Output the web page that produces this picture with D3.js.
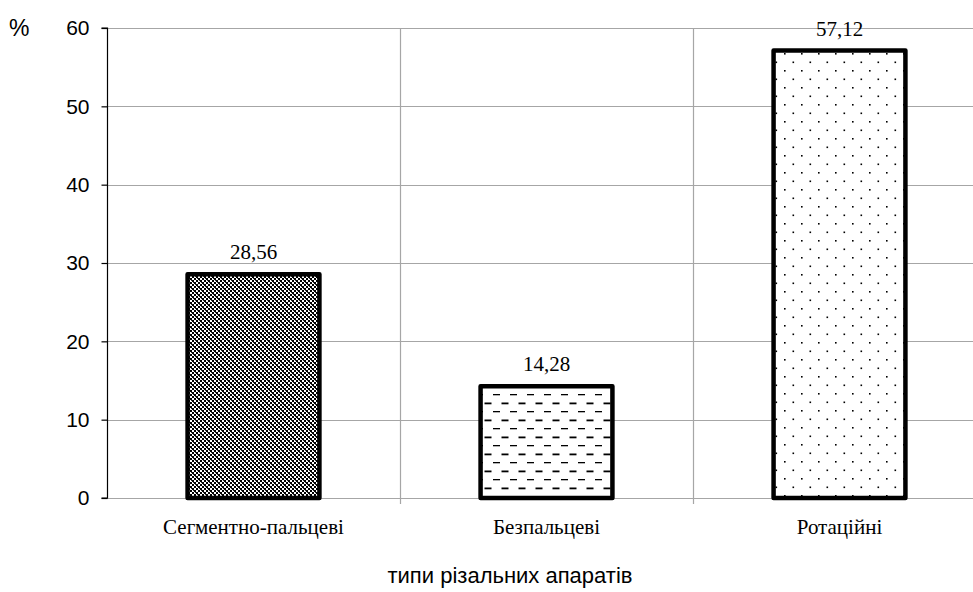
<!DOCTYPE html>
<html>
<head>
<meta charset="utf-8">
<script src="https://cdn.jsdelivr.net/npm/d3@7"></script>
<style>
  body { margin: 0; background: #fff; }
  svg { display: block; }
</style>
</head>
<body>
<svg id="chart" width="973" height="592"></svg>
<script>
const categories = ["Сегментно-пальцеві", "Безпальцеві", "Ротаційні"];
const values = [28.56, 14.28, 57.12];
const valueLabels = ["28,56", "14,28", "57,12"];
const yTicks = [0, 10, 20, 30, 40, 50, 60];
const patterns = ["pChecker", "pDash", "pDots"];

const svg = d3.select("#chart");
const margin = { left: 107, top: 28, bottom: 94 };
const plotW = 879;
const H = 592;

const x = d3.scaleBand().domain(categories).range([margin.left, margin.left + plotW]).paddingInner(0).paddingOuter(0);
const y = d3.scaleLinear().domain([0, 60]).range([H - margin.bottom, margin.top]);

const defs = svg.append("defs");
// dense checker / trellis pattern
const pc = defs.append("pattern").attr("id", "pChecker").attr("patternUnits", "userSpaceOnUse")
  .attr("width", 8).attr("height", 8);
pc.append("rect").attr("width", 8).attr("height", 8).attr("fill", "#fff");
[[0,0],[4,0],[2,2],[6,2],[0,4],[4,4],[2,6],[6,6]].forEach(([a, b]) => {
  pc.append("rect").attr("x", a).attr("y", b).attr("width", 2).attr("height", 2).attr("fill", "#000");
});
[[1,2],[5,6],[3,4],[7,0]].forEach(([a, b]) => {
  pc.append("rect").attr("x", a).attr("y", b).attr("width", 1).attr("height", 1).attr("fill", "#333");
});

const pd = defs.append("pattern").attr("id", "pDash").attr("patternUnits", "userSpaceOnUse")
  .attr("width", 17).attr("height", 17);
pd.append("rect").attr("width", 17).attr("height", 17).attr("fill", "#fff");
pd.append("rect").attr("x", 0).attr("y", 3).attr("width", 7).attr("height", 1.3).attr("fill", "#000");
pd.append("rect").attr("x", 8.5).attr("y", 11.5).attr("width", 7).attr("height", 1.8).attr("fill", "#000");

const pt = defs.append("pattern").attr("id", "pDots").attr("patternUnits", "userSpaceOnUse")
  .attr("width", 17).attr("height", 17);
pt.append("rect").attr("width", 17).attr("height", 17).attr("fill", "#fff");
pt.append("rect").attr("x", 2).attr("y", 2).attr("width", 1.6).attr("height", 1.6).attr("fill", "#000");
pt.append("rect").attr("x", 10.5).attr("y", 10.5).attr("width", 1.6).attr("height", 1.6).attr("fill", "#000");

// horizontal gridlines
svg.append("g").selectAll("line").data(yTicks).join("line")
  .attr("x1", margin.left).attr("x2", margin.left + plotW)
  .attr("y1", d => Math.round(y(d)) + 0.5).attr("y2", d => Math.round(y(d)) + 0.5)
  .attr("stroke", "#a6a6a6").attr("stroke-width", 1.2);

// vertical category boundaries
const bounds = categories.slice(1).map(c => x(c));
svg.append("g").selectAll("line").data(bounds).join("line")
  .attr("x1", d => Math.round(d) + 0.5).attr("x2", d => Math.round(d) + 0.5)
  .attr("y1", margin.top).attr("y2", y(0) + 6)
  .attr("stroke", "#a6a6a6").attr("stroke-width", 1.2);

// y axis
const yAxis = d3.axisLeft(y).tickValues(yTicks).tickSize(6).tickPadding(12);
const gy = svg.append("g").attr("transform", `translate(${margin.left + 0.5},0)`).call(yAxis);
gy.select(".domain").attr("stroke", "#000").attr("stroke-width", 1.2).attr("d", `M-6,${y(60)}H0V${y(0)}H-6`);
gy.selectAll(".tick line").attr("stroke", "#000").attr("stroke-width", 1.2);
gy.selectAll(".tick text").attr("font-family", "Liberation Sans, Arial, sans-serif").attr("font-size", 21).attr("fill", "#000");

// bars
const bw = x.bandwidth() * 0.45;
svg.append("g").selectAll("rect").data(values).join("rect")
  .attr("x", (d, i) => x(categories[i]) + (x.bandwidth() - bw) / 2)
  .attr("y", d => y(d))
  .attr("width", bw)
  .attr("height", d => y(0) - y(d))
  .attr("fill", (d, i) => `url(#${patterns[i]})`)
  .attr("stroke", "#000").attr("stroke-width", 4.5).attr("stroke-linejoin", "round");

// value labels
svg.append("g").selectAll("text").data(values).join("text")
  .attr("x", (d, i) => x(categories[i]) + x.bandwidth() / 2)
  .attr("y", d => y(d) - 15)
  .attr("text-anchor", "middle")
  .attr("font-family", "Liberation Serif, Times New Roman, serif").attr("font-size", 21)
  .text((d, i) => valueLabels[i]);

// category labels
svg.append("g").selectAll("text").data(categories).join("text")
  .attr("x", d => x(d) + x.bandwidth() / 2)
  .attr("y", y(0) + 36)
  .attr("text-anchor", "middle")
  .attr("font-family", "Liberation Serif, Times New Roman, serif").attr("font-size", 21)
  .text(d => d);

// axis titles
svg.append("text").attr("x", 9).attr("y", 36)
  .attr("font-family", "Liberation Sans, Arial, sans-serif").attr("font-size", 23).text("%");
svg.append("text").attr("x", 510).attr("y", 583).attr("text-anchor", "middle")
  .attr("font-family", "Liberation Sans, Arial, sans-serif").attr("font-size", 22).text("типи різальних апаратів");
</script>
</body>
</html>
